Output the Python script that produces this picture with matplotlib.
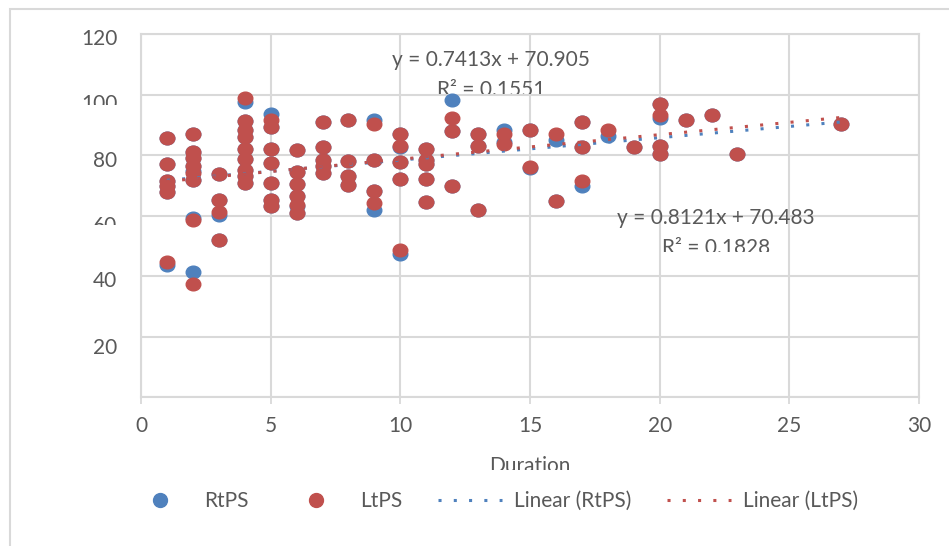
import matplotlib
matplotlib.use('Agg')
import matplotlib.pyplot as plt
from matplotlib.lines import Line2D
from matplotlib.patches import Rectangle
from matplotlib.path import Path
from matplotlib.transforms import Affine2D, Bbox, ScaledTranslation

# Duration vs. RtPS / LtPS scores
duration = [1, 1, 1, 1, 1, 1,
            2, 2, 2, 2, 2, 2, 2, 2,
            3, 3, 3, 3,
            4, 4, 4, 4, 4, 4, 4, 4, 4,
            5, 5, 5, 5, 5, 5, 5,
            6, 6, 6, 6, 6, 6,
            7, 7, 7, 7, 7,
            8, 8, 8, 8,
            9, 9, 9, 9,
            10, 10, 10, 10, 10,
            11, 11, 11, 11, 11,
            12, 12, 12,
            13, 13, 13,
            14, 14,
            15, 15,
            16, 16,
            17, 17, 17,
            18, 19,
            20, 20, 20, 20,
            21, 22, 23, 27]
rtps = [85.6, 77.0, 71.3, 69.7, 67.7, 43.5,
        87.1, 81.1, 78.9, 76.3, 74.8, 71.9, 59.2, 41.3,
        73.6, 65.2, 60.2, 51.9,
        97.4, 91.1, 88.2, 85.8, 81.9, 78.6, 75.2, 73.0, 70.8,
        93.6, 89.1, 81.9, 77.4, 70.8, 65.2, 63.0,
        81.6, 74.4, 70.4, 66.3, 63.0, 60.8,
        90.8, 82.8, 78.2, 76.3, 74.1,
        91.6, 78.0, 73.2, 70.2,
        91.6, 78.3, 68.2, 61.9,
        87.1, 82.5, 77.7, 72.2, 47.4,
        81.9, 78.2, 77.0, 72.1, 64.4,
        98.2, 88.0, 69.6,
        87.1, 83.0, 61.9,
        88.2, 84.2,
        88.2, 75.6,
        84.9, 64.7,
        90.8, 82.8, 69.7,
        86.3, 82.8,
        96.7, 92.2, 83.0, 80.2,
        91.7, 93.2, 80.2, 90.4]
ltps = [85.6, 77.0, 71.3, 69.7, 67.7, 44.7,
        87.1, 81.1, 78.9, 76.3, 74.2, 71.9, 58.6, 37.4,
        73.6, 65.2, 61.0, 51.9,
        98.9, 91.1, 88.2, 85.8, 81.9, 78.6, 75.2, 73.0, 70.8,
        91.6, 89.1, 81.9, 77.4, 70.8, 65.2, 63.0,
        81.6, 74.4, 70.4, 66.3, 63.6, 60.8,
        90.8, 82.8, 78.2, 76.3, 74.1,
        91.6, 78.0, 73.2, 70.2,
        90.2, 78.3, 68.2, 64.1,
        87.1, 83.0, 77.7, 72.2, 48.6,
        81.9, 78.2, 77.0, 72.1, 64.4,
        92.1, 88.0, 69.6,
        87.1, 83.0, 61.9,
        86.9, 83.6,
        88.2, 76.0,
        87.1, 64.7,
        90.8, 82.8, 71.3,
        88.2, 82.8,
        96.7, 93.3, 83.0, 80.2,
        91.7, 93.2, 80.2, 90.4]

# Excel trendline results
rt_slope, rt_icpt, rt_r2 = 0.7413, 70.905, 0.1551
lt_slope, lt_icpt, lt_r2 = 0.8121, 70.483, 0.1828

BLUE = '#4F81BD'
RED = '#C0504D'
GRID = '#D9D9D9'
TXT = '#595959'
W, H = 949, 546

plt.rcParams['font.family'] = ['Lato', 'DejaVu Sans']
plt.rcParams['font.size'] = 15

fig = plt.figure(figsize=(W / 100, H / 100), dpi=100)
ax = fig.add_axes([141 / W, 1 - 397 / H, (919 - 141) / W, (397 - 34) / H])


def clip_below(txt, y_px):
  """Cut a text off below a pixel row (from the top)."""
  txt.set_clip_box(Bbox([[0, H - y_px], [W, H]]))
  txt.set_clip_on(True)


# slightly squashed circles, like the source
ell = Path.unit_circle().transformed(Affine2D().scale(1.15, 1.0))

ax.plot(duration, rtps, ls='none', marker=ell, ms=10.5, color=BLUE, zorder=3)
ax.plot(duration, ltps, ls='none', marker=ell, ms=10.5, color=RED, zorder=4)

xs = [min(duration), max(duration)]
dots = (0, (1, 4))
ax.plot(xs, [rt_slope * x + rt_icpt for x in xs], color=BLUE, lw=2.2,
        ls=dots, dash_capstyle='butt', zorder=5)
ax.plot(xs, [lt_slope * x + lt_icpt for x in xs], color=RED, lw=2.2,
        ls=dots, dash_capstyle='butt', zorder=6)

ax.set_xlim(0, 30)
ax.set_ylim(0, 120)
ax.set_xticks(range(0, 31, 5))
ax.set_yticks(range(0, 121, 20))
ax.set_yticklabels([''] + [str(v) for v in range(20, 121, 20)])
ax.grid(color=GRID, lw=1.5)
ax.set_axisbelow(True)
for sp in ax.spines.values():
  sp.set_color(GRID)
  sp.set_linewidth(1.5)
ax.tick_params(axis='x', length=5, width=1.3, color=GRID, pad=9, labelcolor=TXT)
ax.tick_params(axis='y', length=0, pad=17, labelcolor=TXT)

# y labels sit a bit low in the source; 100 and 60 are cut in half
drop = {120: 3, 100: 8, 80: 4, 60: 8, 40: 3, 20: 10}
for lbl, val in zip(ax.get_yticklabels(), range(0, 121, 20)):
  if val in drop:
    lbl.set_transform(lbl.get_transform() +
                      ScaledTranslation(0, -drop[val] / 100, fig.dpi_scale_trans))
  if val == 100:
    clip_below(lbl, 105)
  if val == 60:
    clip_below(lbl, 225)

xl = ax.set_xlabel('Duration', color=TXT, labelpad=14)
clip_below(xl, 470)

fig.text(491 / W, 1 - 66 / H, f'y = {rt_slope}x + {rt_icpt}', color=TXT,
         ha='center', va='baseline')
t = fig.text(491 / W, 1 - 96 / H, f'R² = {rt_r2}', color=TXT,
             ha='center', va='baseline')
clip_below(t, 93.5)
fig.text(716 / W, 1 - 224 / H, f'y = {lt_slope}x + {lt_icpt}', color=TXT,
         ha='center', va='baseline')
t = fig.text(716 / W, 1 - 254 / H, f'R² = {lt_r2}', color=TXT,
             ha='center', va='baseline')
clip_below(t, 251.5)

handles = [Line2D([], [], ls='none', marker='o', ms=10, color=BLUE),
           Line2D([], [], ls='none', marker='o', ms=10, color=RED),
           Line2D([], [], color=BLUE, lw=2.2, ls=dots, dash_capstyle='butt'),
           Line2D([], [], color=RED, lw=2.2, ls=dots, dash_capstyle='butt')]
labels = ['RtPS', 'LtPS', 'Linear (RtPS)', 'Linear (LtPS)']
leg = fig.legend(handles, labels, loc='center', bbox_to_anchor=(493 / W, 1 - 501 / H),
                 ncol=4, frameon=False, handlelength=3.1, handletextpad=0.55,
                 columnspacing=1.7, labelcolor=TXT)

# chart area border (cut off at the right and bottom)
fig.patches.append(Rectangle((10 / W, -0.1), 2, 1 - 9 / H + 0.1, transform=fig.transFigure,
                             fill=False, ec=GRID, lw=1.5))

fig.savefig('out.png', dpi=100)
